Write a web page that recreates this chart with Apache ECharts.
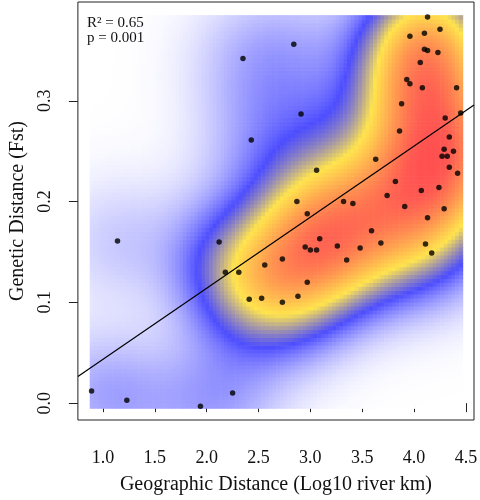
<!DOCTYPE html>
<html><head><meta charset="utf-8">
<script src="https://cdn.jsdelivr.net/npm/echarts@6/dist/echarts.min.js"></script>
<style>html,body{margin:0;padding:0;background:#fff}#c{width:480px;height:500px}</style>
</head><body><div id="c"></div>
<script>
// ---- data ----
const xs = [0.89,1.14,1.23,1.94,2.25,2.12,2.18,2.31,2.56,2.41,2.53,2.35,2.43,2.84,2.91,4.13,4.10,4.25,3.96,4.10,4.13,4.23,4.06,3.93,3.96,4.08,4.41,3.88,4.45,4.30,3.86,4.34,4.29,4.38,4.27,4.32,3.63,4.34,4.42,3.06,3.82,4.07,4.24,3.74,2.87,3.32,3.41,3.91,4.29,2.97,4.13,3.59,3.09,2.95,3.00,3.06,3.26,3.68,3.48,4.11,4.17,2.73,3.35,2.97,2.88,2.73];
const ys = [0.012,0.161,0.003,-0.003,0.010,0.160,0.130,0.130,0.137,0.103,0.104,0.342,0.261,0.356,0.287,0.383,0.367,0.371,0.364,0.351,0.350,0.348,0.338,0.321,0.317,0.313,0.313,0.297,0.288,0.283,0.270,0.264,0.252,0.250,0.245,0.245,0.242,0.234,0.228,0.231,0.220,0.211,0.214,0.206,0.200,0.200,0.198,0.195,0.193,0.188,0.184,0.171,0.163,0.155,0.152,0.152,0.156,0.159,0.154,0.158,0.149,0.143,0.142,0.120,0.106,0.100];
const xTicks = [1.0,1.5,2.0,2.5,3.0,3.5,4.0,4.5];
const yTicks = [0.0,0.1,0.2,0.3];
const lineIntercept = -0.0269;
const lineSlope = 0.0705;
const statLines = ['R\u00B2 = 0.65', 'p = 0.001'];
const xTitle = 'Geographic Distance (Log10 river km)';
const yTitle = 'Genetic Distance (Fst)';

// ---- axis extents ----
const X_MIN = 0.758, X_MAX = 4.578, Y_MIN = -0.0167, Y_MAX = 0.398;

// ---- 2D kernel density over the data range (normal reference bandwidth) ----
function quantile(arr, p) {
  const a = arr.slice().sort((m, n) => m - n);
  const h = (a.length - 1) * p, lo = Math.floor(h);
  return a[lo] + (h - lo) * ((a[lo + 1] !== undefined ? a[lo + 1] : a[lo]) - a[lo]);
}
function nrdSd(arr) {
  const n = arr.length, mean = arr.reduce((s, v) => s + v, 0) / n;
  const sd = Math.sqrt(arr.reduce((s, v) => s + (v - mean) * (v - mean), 0) / (n - 1));
  const iqr = quantile(arr, 0.75) - quantile(arr, 0.25);
  return 1.06 * Math.min(sd, iqr / 1.34) * Math.pow(n, -0.2);
}
const NX = 100, NY = 100;
const HX = nrdSd(xs), HY = nrdSd(ys);
const dxMin = Math.min(...xs), dxMax = Math.max(...xs);
const dyMin = Math.min(...ys), dyMax = Math.max(...ys);
const gx = [], gy = [];
for (let i = 0; i < NX; i++) gx.push(dxMin + (dxMax - dxMin) * i / (NX - 1));
for (let j = 0; j < NY; j++) gy.push(dyMin + (dyMax - dyMin) * j / (NY - 1));
const dens = [];
let dmax = 0;
for (let i = 0; i < NX; i++) {
  for (let j = 0; j < NY; j++) {
    let s = 0;
    for (let k = 0; k < xs.length; k++) {
      const u = (gx[i] - xs[k]) / HX, v = (gy[j] - ys[k]) / HY;
      s += Math.exp(-0.5 * (u * u + v * v));
    }
    dens.push([i, j, s]);
    if (s > dmax) dmax = s;
  }
}
const stops = [
  [0.00, [255, 255, 255]],
  [0.25, [77, 77, 255]],
  [0.50, [255, 228, 77]],
  [0.71, [255, 160, 80]],
  [0.94, [255, 90, 82]],
  [1.00, [255, 80, 80]]
];
function colorOf(t) {
  for (let k = 1; k < stops.length; k++) {
    if (t <= stops[k][0]) {
      const a = stops[k - 1], b = stops[k];
      const f = (t - a[0]) / (b[0] - a[0]);
      const c = a[1].map((v, q) => Math.round(v + (b[1][q] - v) * f));
      return 'rgb(' + c.join(',') + ')';
    }
  }
  return 'rgb(255,80,80)';
}
const hx = (dxMax - dxMin) / (NX - 1) / 2, hy = (dyMax - dyMin) / (NY - 1) / 2;
const cellData = [], cellColors = [];
dens.forEach(([i, j, s]) => {
  cellData.push([gx[i] - hx, gx[i] + hx, gy[j] - hy, gy[j] + hy]);
  cellColors.push(colorOf(s / dmax));
});

const points = xs.map((x, i) => [x, ys[i]]);
const lineData = [[X_MIN, lineIntercept + lineSlope * X_MIN], [X_MAX, lineIntercept + lineSlope * X_MAX]];

const serif = '"Liberation Serif", "DejaVu Serif", serif';
const chart = echarts.init(document.getElementById('c'), null, {renderer: 'canvas'});
chart.setOption({
  animation: false,
  backgroundColor: '#fff',
  grid: {left: 70, right: 5, top: 2, bottom: 76, show: true, borderColor: '#222', borderWidth: 1, backgroundColor: 'transparent'},
  xAxis: {
    type: 'value', min: X_MIN, max: X_MAX,
    splitLine: {show: false},
    axisLine: {show: false},
    axisTick: {show: true, customValues: xTicks, length: 9, lineStyle: {color: '#222'}},
    axisLabel: {customValues: xTicks, formatter: v => v.toFixed(1), fontFamily: serif, fontSize: 18, color: '#111', margin: 29},
    name: xTitle, nameLocation: 'middle', nameGap: 55,
    nameTextStyle: {fontFamily: serif, fontSize: 20, color: '#111'}
  },
  yAxis: {
    type: 'value', min: Y_MIN, max: Y_MAX,
    splitLine: {show: false},
    axisLine: {show: false},
    axisTick: {show: true, customValues: yTicks, length: 9, lineStyle: {color: '#222'}},
    axisLabel: {customValues: yTicks, formatter: v => v.toFixed(1), rotate: 90, fontFamily: serif, fontSize: 18, color: '#111', margin: 24},
    name: yTitle, nameLocation: 'middle', nameGap: 45,
    nameTextStyle: {fontFamily: serif, fontSize: 20, color: '#111'}
  },
  graphic: [{
    type: 'text', left: 87, top: 16, silent: true, z: 100,
    style: {text: statLines.join('\n'), font: '15px ' + serif, lineHeight: 15, fill: '#111'}
  }],
  series: [
    {
      type: 'custom', coordinateSystem: 'cartesian2d', clip: true, silent: true, progressive: 0,
      data: cellData,
      encode: {x: [0, 1], y: [2, 3]},
      renderItem: function (params, api) {
        const p0 = api.coord([api.value(0), api.value(2)]);
        const p1 = api.coord([api.value(1), api.value(3)]);
        return {
          type: 'rect',
          shape: {x: p0[0], y: p1[1], width: p1[0] - p0[0] + 0.6, height: p0[1] - p1[1] + 0.6},
          style: {fill: cellColors[params.dataIndex]}
        };
      },
      z: 1
    },
    {
      type: 'line', data: lineData, symbol: 'none', silent: true,
      lineStyle: {color: '#000', width: 1.2}, z: 3
    },
    {
      type: 'scatter', data: points, symbol: 'circle', symbolSize: 5.5, silent: true,
      itemStyle: {color: '#000'}, z: 4
    }
  ]
});
</script>
</body></html>
